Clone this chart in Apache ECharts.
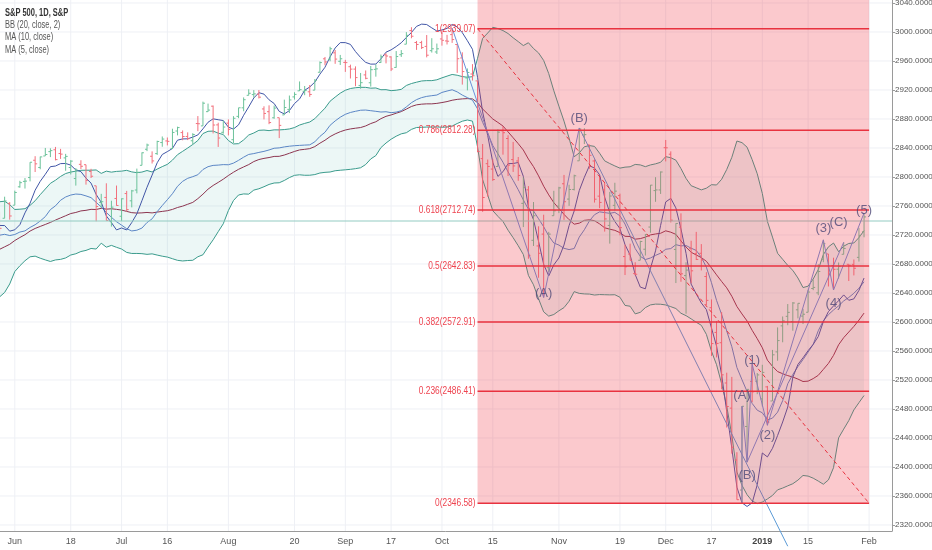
<!DOCTYPE html>
<html><head><meta charset="utf-8">
<script src="https://cdn.jsdelivr.net/npm/echarts@6/dist/echarts.min.js"></script>
<style>html,body{margin:0;padding:0;background:#fff;}#c{width:932px;height:550px;}</style>
</head><body><div id="c"></div>
<script>
const dates = [
 '2018-05-29','2018-05-30','2018-05-31',
 '2018-06-01','2018-06-04','2018-06-05','2018-06-06','2018-06-07','2018-06-08','2018-06-11','2018-06-12','2018-06-13','2018-06-14','2018-06-15','2018-06-18','2018-06-19','2018-06-20','2018-06-21','2018-06-22','2018-06-25','2018-06-26','2018-06-27','2018-06-28','2018-06-29',
 '2018-07-02','2018-07-03','2018-07-05','2018-07-06','2018-07-09','2018-07-10','2018-07-11','2018-07-12','2018-07-13','2018-07-16','2018-07-17','2018-07-18','2018-07-19','2018-07-20','2018-07-23','2018-07-24','2018-07-25','2018-07-26','2018-07-27','2018-07-30','2018-07-31',
 '2018-08-01','2018-08-02','2018-08-03','2018-08-06','2018-08-07','2018-08-08','2018-08-09','2018-08-10','2018-08-13','2018-08-14','2018-08-15','2018-08-16','2018-08-17','2018-08-20','2018-08-21','2018-08-22','2018-08-23','2018-08-24','2018-08-27','2018-08-28','2018-08-29','2018-08-30','2018-08-31',
 '2018-09-04','2018-09-05','2018-09-06','2018-09-07','2018-09-10','2018-09-11','2018-09-12','2018-09-13','2018-09-14','2018-09-17','2018-09-18','2018-09-19','2018-09-20','2018-09-21','2018-09-24','2018-09-25','2018-09-26','2018-09-27','2018-09-28',
 '2018-10-01','2018-10-02','2018-10-03','2018-10-04','2018-10-05','2018-10-08','2018-10-09','2018-10-10','2018-10-11','2018-10-12','2018-10-15','2018-10-16','2018-10-17','2018-10-18','2018-10-19','2018-10-22','2018-10-23','2018-10-24','2018-10-25','2018-10-26','2018-10-29','2018-10-30','2018-10-31',
 '2018-11-01','2018-11-02','2018-11-05','2018-11-06','2018-11-07','2018-11-08','2018-11-09','2018-11-12','2018-11-13','2018-11-14','2018-11-15','2018-11-16','2018-11-19','2018-11-20','2018-11-21','2018-11-23','2018-11-26','2018-11-27','2018-11-28','2018-11-29','2018-11-30',
 '2018-12-03','2018-12-04','2018-12-06','2018-12-07','2018-12-10','2018-12-11','2018-12-12','2018-12-13','2018-12-14','2018-12-17','2018-12-18','2018-12-19','2018-12-20','2018-12-21','2018-12-24','2018-12-26','2018-12-27','2018-12-28','2018-12-31',
 '2019-01-02','2019-01-03','2019-01-04','2019-01-07','2019-01-08','2019-01-09','2019-01-10','2019-01-11','2019-01-14','2019-01-15','2019-01-16','2019-01-17','2019-01-18','2019-01-22','2019-01-23','2019-01-24','2019-01-25','2019-01-28','2019-01-29','2019-01-30','2019-01-31',
 '2019-02-01','2019-02-04','2019-02-05','2019-02-06','2019-02-07'
];

const opens = [
 2705.11,2702.43,2720.98,
 2718.70,2741.67,2748.46,2753.25,2774.84,2765.84,2780.18,2785.60,2787.94,2783.21,2777.78,2765.79,2752.01,2769.73,2769.28,2760.79,2742.94,2722.12,2728.45,2698.69,2727.13,
 2704.95,2733.27,2724.19,2737.68,2768.51,2788.56,2779.82,2783.14,2796.93,2798.96,2789.34,2811.35,2809.37,2804.55,2799.17,2820.68,2817.73,2835.49,2842.35,2819.00,2809.73,
 2821.17,2800.48,2829.62,2840.29,2855.92,2856.79,2857.19,2838.90,2835.46,2827.88,2827.95,2831.44,2838.32,2853.93,2861.51,2860.99,2860.29,2862.35,2884.69,2901.45,2900.62,2908.94,2898.37,
 2896.96,2891.59,2888.64,2868.26,2881.39,2871.57,2888.29,2896.85,2906.38,2903.83,2890.74,2906.60,2919.73,2936.76,2921.83,2921.75,2916.98,2911.65,2910.03,
 2926.29,2923.80,2931.69,2919.35,2902.54,2877.53,2882.51,2873.90,2776.87,2770.54,2763.83,2767.05,2811.67,2802.00,2775.66,2773.94,2721.03,2737.87,2674.88,2667.86,2682.65,2640.68,2705.60,
 2717.58,2745.45,2726.37,2738.40,2774.13,2806.38,2794.10,2773.93,2730.05,2737.90,2693.52,2718.54,2730.74,2654.60,2657.74,2633.36,2649.97,2663.75,2691.45,2736.97,2737.76,
 2790.50,2782.43,2663.51,2691.26,2630.86,2664.44,2658.23,2658.70,2629.68,2590.75,2559.90,2547.05,2496.77,2465.38,2400.56,2363.12,2442.50,2498.77,2498.94,
 2476.96,2491.92,2474.33,2535.61,2568.11,2580.00,2573.51,2588.11,2580.31,2585.10,2614.75,2609.28,2651.27,2657.88,2643.48,2638.84,2657.44,2644.97,2644.89,2653.62,2685.49
];
const highs = [
 2710.67,2729.34,2722.50,
 2736.93,2749.16,2752.61,2772.39,2779.90,2779.39,2790.21,2789.80,2791.47,2789.06,2782.81,2774.99,2765.05,2774.86,2769.28,2764.17,2742.94,2732.91,2746.09,2724.34,2743.26,
 2727.26,2736.58,2737.83,2764.41,2784.65,2795.58,2785.91,2799.22,2804.53,2803.28,2814.19,2816.76,2812.05,2809.70,2808.61,2829.99,2848.03,2845.57,2843.17,2821.74,2824.46,
 2825.83,2829.91,2840.38,2853.29,2863.43,2862.44,2862.48,2842.20,2843.40,2843.11,2827.95,2850.49,2855.63,2859.76,2873.23,2867.54,2868.78,2876.16,2898.25,2903.77,2916.50,2912.46,2906.32,
 2900.18,2894.21,2892.05,2883.81,2886.93,2892.52,2894.65,2906.76,2908.30,2904.65,2911.17,2912.36,2934.80,2940.91,2923.79,2923.95,2931.15,2927.22,2920.53,
 2937.06,2931.42,2939.86,2919.78,2909.64,2889.45,2894.83,2874.02,2795.14,2775.77,2775.99,2813.46,2816.94,2806.04,2797.77,2778.94,2753.59,2742.59,2722.70,2692.38,2706.85,2685.43,2736.69,
 2741.67,2756.55,2744.27,2756.82,2815.15,2814.75,2794.10,2775.99,2754.60,2746.80,2735.38,2746.75,2733.16,2669.44,2670.73,2647.55,2674.35,2682.53,2744.00,2753.75,2760.88,
 2800.18,2785.93,2696.15,2708.54,2647.51,2674.35,2685.44,2670.19,2635.07,2601.13,2573.99,2585.29,2509.63,2504.41,2410.34,2467.76,2489.10,2520.27,2509.24,
 2519.49,2493.14,2538.07,2566.16,2579.82,2595.32,2597.82,2596.27,2589.32,2613.08,2625.76,2645.06,2675.47,2657.88,2653.19,2647.20,2672.38,2644.97,2650.93,2690.44,2708.95
];
const lows = [
 2676.81,2702.43,2700.68,
 2718.70,2740.54,2739.51,2748.46,2760.16,2763.59,2780.17,2778.78,2774.65,2776.52,2761.73,2757.12,2743.19,2763.91,2744.39,2752.68,2698.67,2715.60,2699.38,2691.99,2718.03,
 2698.95,2711.16,2716.02,2733.52,2768.51,2786.24,2770.77,2781.53,2791.69,2793.39,2789.24,2805.89,2799.77,2800.01,2795.14,2811.12,2817.73,2835.26,2808.34,2791.47,2808.06,
 2805.85,2796.34,2827.37,2835.98,2855.92,2853.09,2851.98,2825.81,2819.88,2826.58,2802.49,2831.44,2833.73,2850.62,2861.32,2856.05,2854.03,2862.35,2884.69,2893.50,2898.40,2895.22,2893.78,
 2885.13,2876.92,2867.29,2864.12,2875.94,2866.78,2879.20,2896.39,2895.77,2886.16,2890.43,2903.82,2919.73,2927.11,2912.63,2913.70,2903.28,2909.27,2907.50,
 2917.91,2919.37,2921.36,2883.92,2869.29,2862.08,2874.27,2784.86,2710.51,2729.44,2749.03,2766.91,2781.81,2755.18,2760.27,2749.22,2691.43,2651.89,2667.84,2628.16,2603.54,2635.34,2705.60,
 2708.85,2700.44,2717.94,2737.08,2774.13,2794.99,2764.24,2722.00,2714.98,2685.75,2670.75,2712.16,2681.09,2631.52,2649.82,2631.09,2649.97,2655.89,2684.38,2722.94,2732.76,
 2773.38,2697.18,2621.53,2623.14,2583.23,2621.30,2650.26,2637.27,2593.84,2530.54,2528.71,2488.96,2441.18,2408.55,2351.10,2346.58,2397.94,2472.89,2482.82,
 2467.47,2443.96,2474.33,2524.56,2547.56,2568.89,2562.02,2577.40,2570.41,2585.10,2612.68,2606.36,2647.58,2617.27,2612.86,2627.01,2657.33,2624.06,2631.05,2648.34,2678.65
];
const closes = [
 2689.86,2724.01,2705.27,
 2734.62,2746.87,2748.80,2772.35,2770.37,2779.03,2782.00,2786.85,2775.63,2782.49,2779.66,2773.75,2762.59,2767.32,2749.76,2754.88,2717.07,2723.06,2699.63,2716.31,2718.37,
 2726.71,2713.22,2736.61,2759.82,2784.17,2793.84,2774.02,2798.29,2801.31,2798.43,2809.55,2815.62,2804.49,2801.83,2806.98,2820.40,2846.07,2837.44,2818.82,2802.60,2816.29,
 2813.36,2827.22,2840.35,2850.40,2858.45,2857.70,2853.58,2833.28,2821.93,2839.96,2818.37,2840.69,2850.13,2857.05,2862.96,2861.82,2856.98,2874.69,2896.74,2897.52,2914.04,2901.13,2901.52,
 2896.72,2888.60,2878.05,2871.68,2877.13,2887.89,2888.92,2904.18,2904.98,2888.80,2904.31,2907.95,2930.75,2929.67,2919.37,2915.56,2905.97,2914.00,2913.98,
 2924.59,2923.43,2925.51,2901.61,2885.57,2884.43,2880.34,2785.68,2728.37,2767.13,2750.79,2809.92,2809.21,2768.78,2767.78,2755.88,2740.69,2656.10,2705.57,2658.69,2641.25,2682.63,2711.74,
 2740.37,2723.06,2738.31,2755.45,2813.89,2806.83,2781.01,2726.22,2722.18,2701.58,2730.20,2736.27,2690.73,2641.89,2649.93,2632.56,2673.45,2682.17,2743.79,2737.80,2760.17,
 2790.37,2700.06,2695.95,2633.08,2637.72,2636.78,2651.07,2650.54,2599.95,2545.94,2546.16,2506.96,2467.42,2416.62,2351.10,2467.70,2488.83,2485.74,2506.85,
 2510.03,2447.89,2531.94,2549.69,2574.41,2584.96,2596.64,2596.26,2582.61,2610.30,2616.10,2635.96,2670.71,2632.90,2638.70,2642.33,2664.76,2643.85,2640.00,2681.05,2704.10
];
// closes before the first visible bar (needed by the 20/10/5 averages)
const preCloses = [2654.80,2635.67,2629.73,2663.42,2672.63,2671.92,2697.79,2723.07,2727.72,2730.13,2711.45,2722.46,2720.13,2712.97,2733.01,2724.44,2733.29,2727.76,2721.33];

const xTickDates  = ['2018-06-01','2018-06-18','2018-07-02','2018-07-16','2018-08-01','2018-08-20','2018-09-04','2018-09-17','2018-10-01','2018-10-15','2018-11-01','2018-11-19','2018-12-03','2018-12-17','2019-01-02','2019-01-15','2019-02-01'];
const xTickLabels = ['Jun','18','Jul','16','Aug','20','Sep','17','Oct','15','Nov','19','Dec','17','2019','15','Feb'];
const yTicks = [2320,2360,2400,2440,2480,2520,2560,2600,2640,2680,2720,2760,2800,2840,2880,2920,2960,3000,3040];

const fibHigh = 2939.07, fibLow = 2346.58;
const fibRatios = [1, 0.786, 0.618, 0.5, 0.382, 0.236, 0];
const fibLabels = ['1(2939.07)','0.786(2812.28)','0.618(2712.74)','0.5(2642.83)','0.382(2572.91)','0.236(2486.41)','0(2346.58)'];
const fibStart = '2018-10-10', fibEnd = '2019-02-01';
const lastPrice = 2699;

const waveADates = ['2018-10-03','2018-10-29','2018-11-07'];
const waveAValues = [2939.86, 2603.54, 2815.15];
const rayDates = ['2018-11-07','2019-01-09'];
const rayValues = [2815.15, 2293];
const waveBDates = ['2018-12-26','2018-12-26','2018-12-27','2018-12-28','2019-01-03','2019-01-18','2019-01-23','2019-01-31'];
const waveBValues = [2346.58, 2467.76, 2397.94, 2520.27, 2443.96, 2675.47, 2612.86, 2708.95];
const waveCDates = ['2018-12-27','2019-01-25'];
const waveCValues = [2397.94, 2672.38];

const waveLabels = ['(A)','(B)','(1)','(A)','(2)','(B)','(3)','(C)','(4)','(5)'];
const waveLabelDates = ['2018-10-29','2018-11-07','2018-12-28','2018-12-26','2019-01-03','2018-12-27','2019-01-18','2019-01-24','2019-01-23','2019-01-31'];
const waveLabelValues = [2609, 2827.6, 2525.5, 2481.8, 2431.8, 2381.9, 2690.3, 2697.8, 2596.6, 2712.7];

// axis ranges (scales) of the panes
const priceAxisMin = 2311.7, priceAxisMax = 3044.1;   // visible scale: BB, MA10
const barAxisMin = 2312.0, barAxisMax = 2974.9;       // bars & drawings
const ma5AxisMin = 2413.8, ma5AxisMax = 2944.8;       // MA5 own scale

// ---------------- build ----------------
const FONT = '"Liberation Sans",Arial,sans-serif';
const all = preCloses.concat(closes);
const off = preCloses.length;
function sma(n, i){ const k=i+off; if(k-n+1<0) return null; let s=0; for(let j=k-n+1;j<=k;j++) s+=all[j]; return s/n; }
function sd(n, i){ const m=sma(n,i); const k=i+off; let s=0; for(let j=k-n+1;j<=k;j++) s+=(all[j]-m)*(all[j]-m); return Math.sqrt(s/n); }
const N = dates.length;
const ma5=[], ma10=[], bbMid=[], bbUp=[], bbLo=[], bbWidth=[];
for(let i=0;i<N;i++){
  if(i<closes.length){
    const m=sma(20,i), s=sd(20,i);
    ma5.push(sma(5,i)); ma10.push(sma(10,i));
    bbMid.push(m); bbUp.push(m+2*s); bbLo.push(m-2*s); bbWidth.push(4*s);
  } else { ma5.push(null); ma10.push(null); bbMid.push(null); bbUp.push(null); bbLo.push(null); bbWidth.push(null); }
}
const barData = closes.map((c,i)=>[i, opens[i], highs[i], lows[i], c]);
const idx = d => dates.indexOf(d);
const tickIdx = xTickDates.map(idx);
const tickSet = new Set(tickIdx);
const labelMap = new Map(xTickDates.map((d,i)=>[d, xTickLabels[i]]));
const fibData = fibRatios.map((r,i)=>[idx(fibStart), idx(fibEnd), fibLow + r*(fibHigh-fibLow), i]);
const zoneStart = idx(fibStart), zoneEnd = idx(fibEnd);

const UP='#6cc29a', DOWN='#f2717d';
const legendLines = ['S&P 500, 1D, S&P','BB (20, close, 2)','MA (10, close)','MA (5, close)'];
const chart = echarts.init(document.getElementById('c'));
chart.setOption({
  animation:false,
  grid:{left:-3, right:40, top:0, bottom:19, containLabel:false, outerBoundsMode:'none'},
  xAxis:{type:'category', data:dates, boundaryGap:true,
    axisLine:{lineStyle:{color:'#9a9a9a'}},
    axisTick:{alignWithLabel:true, length:4, interval:(i)=>tickSet.has(i), lineStyle:{color:'#9a9a9a'}},
    axisLabel:{interval:(i)=>tickSet.has(i),
      formatter:(v)=>{const t=labelMap.get(v)||''; return /^\d{4}$/.test(t)?'{y|'+t+'}':t;},
      rich:{y:{fontWeight:'bold', fontSize:9, color:'#444', fontFamily:FONT}},
      color:'#555', fontSize:9, fontFamily:FONT, margin:6},
    splitLine:{show:false}},
  yAxis:[
    {type:'value', position:'right', min:priceAxisMin, max:priceAxisMax,
      axisLine:{show:true, lineStyle:{color:'#9a9a9a'}},
      axisTick:{show:true, length:3, customValues:yTicks, lineStyle:{color:'#9a9a9a'}},
      axisLabel:{customValues:yTicks, formatter:(v)=>v.toFixed(4), color:'#555', fontSize:8, fontFamily:FONT, margin:3},
      splitLine:{show:false}},
    {type:'value', position:'right', min:barAxisMin, max:barAxisMax, show:false, splitLine:{show:false}},
    {type:'value', position:'right', min:ma5AxisMin, max:ma5AxisMax, show:false, splitLine:{show:false}}
  ],
  graphic: legendLines.map((t,i)=>({type:'text', x:5, y:[7,19,31,44][i], scaleX:0.68, z:50,
      style:{text:t, fill:i===0?'#333':'#555', font:(i===0?'bold ':'')+'11px '+FONT}})),
  series:[
    {type:'custom', name:'hgrid', yAxisIndex:0, z:0, silent:true, data:yTicks.map(v=>[0,v]), encode:{x:0,y:1},
      renderItem:(p,api)=>{const cs=p.coordSys; const y=api.coord([0,api.value(1)])[1];
        return {type:'line', shape:{x1:cs.x, y1:y, x2:cs.x+cs.width, y2:y}, style:{stroke:'#eef0f5', lineWidth:1}};}},
    {type:'custom', name:'vgrid', yAxisIndex:0, z:0, silent:true, data:tickIdx.map(i=>[i, priceAxisMin]), encode:{x:0,y:1},
      renderItem:(p,api)=>{const cs=p.coordSys; const x=api.coord([api.value(0),priceAxisMin])[0];
        return {type:'line', shape:{x1:x, y1:cs.y, x2:x, y2:cs.y+cs.height}, style:{stroke:'#eef0f5', lineWidth:1}};}},
    {type:'line', name:'bbBase', yAxisIndex:0, stack:'bb', data:bbLo, showSymbol:false, lineStyle:{opacity:0}, z:1, silent:true},
    {type:'line', name:'bbFill', yAxisIndex:0, stack:'bb', data:bbWidth, showSymbol:false, lineStyle:{opacity:0}, areaStyle:{color:'rgba(38,166,154,0.12)'}, z:1, silent:true},
    {type:'line', name:'bbUpper', yAxisIndex:0, data:bbUp, showSymbol:false, lineStyle:{color:'#3a9b8c', width:1}, z:2},
    {type:'line', name:'bbLower', yAxisIndex:0, data:bbLo, showSymbol:false, lineStyle:{color:'#3a9b8c', width:1}, z:2},
    {type:'line', name:'bbBasis', yAxisIndex:0, data:bbMid, showSymbol:false, lineStyle:{color:'#8c3550', width:1}, z:2},
    {type:'line', name:'MA10', yAxisIndex:0, data:ma10, showSymbol:false, lineStyle:{color:'#5b86c5', width:1}, z:2},
    {type:'line', name:'MA5', yAxisIndex:2, data:ma5, showSymbol:false, lineStyle:{color:'#4156a6', width:1}, z:2},
    {type:'custom', name:'bars', yAxisIndex:1, z:3, data:barData, encode:{x:0, y:[1,2,3,4]},
      renderItem:(p,api)=>{
        const i=api.value(0), o=api.value(1), h=api.value(2), l=api.value(3), c=api.value(4);
        const pH=api.coord([i,h]), pL=api.coord([i,l]), pO=api.coord([i,o]), pC=api.coord([i,c]);
        const t=Math.max(1.5, api.size([1,0])[0]*0.4);
        const st={stroke: c>=o?UP:DOWN, lineWidth:1};
        return {type:'group', children:[
          {type:'line', shape:{x1:pH[0],y1:pH[1],x2:pL[0],y2:pL[1]}, style:st},
          {type:'line', shape:{x1:pO[0]-t,y1:pO[1],x2:pO[0],y2:pO[1]}, style:st},
          {type:'line', shape:{x1:pC[0],y1:pC[1],x2:pC[0]+t,y2:pC[1]}, style:st}]};
      }},
    {type:'custom', name:'lastPrice', yAxisIndex:1, z:3, silent:true, data:[[0,lastPrice]], encode:{x:0,y:1},
      renderItem:(p,api)=>{const cs=p.coordSys; const y=api.coord([0,api.value(1)])[1];
        return {type:'line', shape:{x1:cs.x, y1:y, x2:cs.x+cs.width, y2:y}, style:{stroke:'#93cbc2', lineWidth:1}};}},
    {type:'line', name:'waveA', yAxisIndex:1, data:waveADates.map((d,i)=>[idx(d), waveAValues[i]]), showSymbol:false, lineStyle:{color:'#6b8fd8', width:1}, z:4},
    {type:'line', name:'ray', yAxisIndex:1, clip:false, data:rayDates.map((d,i)=>[idx(d), rayValues[i]]), showSymbol:false, lineStyle:{color:'#5a9ad6', width:1}, z:4},
    {type:'line', name:'waveB', yAxisIndex:1, data:waveBDates.map((d,i)=>[idx(d), waveBValues[i]]), showSymbol:false, lineStyle:{color:'#6b8fd8', width:1}, z:4},
    {type:'line', name:'waveC', yAxisIndex:1, data:waveCDates.map((d,i)=>[idx(d), waveCValues[i]]), showSymbol:false, lineStyle:{color:'#6b8fd8', width:1}, z:4},
    {type:'custom', name:'fibLevels', yAxisIndex:1, z:10, silent:true, clip:true, data:fibData, encode:{x:0, y:2},
      renderItem:(p,api)=>{
        const v=api.value(2), k=api.value(3);
        const a=api.coord([zoneStart, v]), b=api.coord([zoneEnd, v]);
        const kids=[];
        if(k===0){
          const top=api.coord([zoneStart, barAxisMax]), bot=api.coord([zoneEnd, fibLow]);
          kids.push({type:'rect', shape:{x:top[0], y:top[1], width:bot[0]-top[0], height:bot[1]-top[1]}, style:{fill:'rgba(242,54,69,0.27)'}});
        }
        kids.push({type:'line', shape:{x1:a[0], y1:a[1], x2:b[0], y2:b[1]}, style:{stroke:'#e8323f', lineWidth:1.5}});
        kids.push({type:'text', x:a[0]-2, y:a[1], scaleX:0.76, style:{text:fibLabels[k], fill:'#ee4450', font:'11px '+FONT, align:'right', verticalAlign:'middle'}});
        return {type:'group', children:kids};}},
    {type:'line', name:'fibTrend', yAxisIndex:1, z:11, data:[[zoneStart, fibHigh],[zoneEnd, fibLow]], showSymbol:false, lineStyle:{color:'#e8323f', width:1, type:[4,3]}},
    {type:'scatter', name:'waveLabels', yAxisIndex:1, z:12, symbolSize:1, itemStyle:{color:'rgba(0,0,0,0)'},
      data:waveLabels.map((t,i)=>({name:t, value:[idx(waveLabelDates[i]), waveLabelValues[i]]})),
      label:{show:true, position:'inside', formatter:'{b}', color:'#4f4a78', fontSize:13, fontFamily:FONT}}
  ]
});
</script></body></html>
